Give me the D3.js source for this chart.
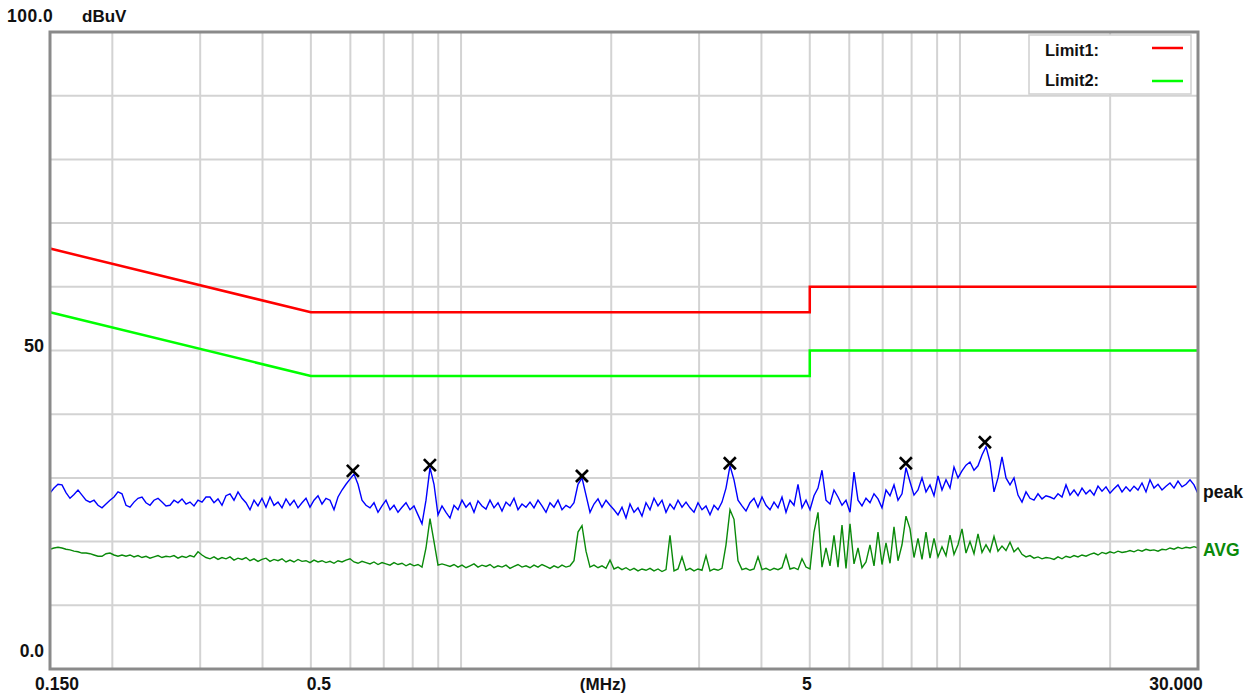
<!DOCTYPE html>
<html><head><meta charset="utf-8">
<script src="https://cdn.jsdelivr.net/npm/d3@7"></script>
<style>
body{margin:0;background:#fff}
svg{display:block}
text{font-family:"Liberation Sans",Arial,sans-serif;font-weight:bold;fill:#111}
</style>
</head><body>
<svg id="chart" width="1255" height="695"></svg>
<script>
// ---------------- DATA ----------------
const freqStart = 0.15, freqStop = 30;   // MHz sweep
const levelMin = 0, levelMax = 100;      // dBuV

// peak trace (dBuV), equally spaced sweep points on log frequency
const peakValues = [
27.6,28.4,29.0,28.9,27.7,26.8,27.4,28.1,27.3,26.5,
26.2,26.5,25.7,25.3,25.9,26.5,27.0,27.8,27.5,25.7,
25.4,26.2,26.8,27.0,26.1,25.7,26.5,26.8,26.2,25.6,
25.7,26.5,26.1,26.7,25.9,26.2,25.6,26.5,26.2,27.0,
27.0,26.1,26.7,25.7,27.2,27.5,26.5,27.8,26.8,26.1,
25.0,26.5,25.6,26.8,25.4,27.0,25.7,26.2,25.3,26.7,
25.7,26.5,25.3,26.1,26.8,25.4,26.5,27.2,25.9,26.8,
26.5,25.0,27.0,28.1,29.0,29.8,30.6,29.0,26.5,25.7,
25.3,26.1,24.6,25.6,26.5,25.0,25.7,24.6,25.4,26.1,
25.0,25.6,24.2,22.8,26.5,31.6,29.0,24.2,25.6,24.6,
23.7,25.7,25.0,26.5,25.4,26.1,24.6,26.4,25.6,25.1,
26.5,25.3,26.1,24.8,26.2,25.6,26.8,25.0,25.9,25.4,
26.2,25.3,26.5,25.6,24.6,26.1,25.4,26.5,25.0,25.7,
25.3,26.1,29.0,30.0,27.3,24.6,25.9,26.7,25.4,26.5,
25.7,25.0,24.2,25.4,23.7,25.9,24.6,25.3,24.0,26.1,
25.0,26.8,25.6,26.5,24.6,25.9,25.1,26.5,25.4,26.2,
25.3,24.6,26.1,25.0,25.6,24.2,25.7,25.0,26.2,28.4,
31.9,29.7,26.5,25.6,24.8,26.1,26.8,25.4,27.0,25.7,
25.0,26.2,25.3,27.0,24.6,26.5,25.7,29.0,25.3,26.5,
25.0,27.2,28.4,31.2,26.5,25.9,28.1,27.0,25.7,26.5,
24.6,30.9,26.5,25.6,26.8,26.1,27.5,26.7,25.3,28.1,
27.2,28.9,26.5,27.5,31.6,29.4,27.3,28.1,30.0,27.8,
28.9,27.2,30.3,28.1,29.7,28.4,31.7,30.0,31.1,32.0,
32.5,31.2,31.9,33.6,34.9,32.5,27.8,30.0,33.3,30.0,
28.9,30.0,27.3,26.2,27.8,26.8,26.5,27.5,26.7,27.2,
27.0,26.7,27.5,27.0,28.9,27.3,28.1,27.2,28.4,27.5,
28.1,27.3,28.7,27.9,28.6,27.6,28.3,28.9,27.8,28.6,
27.9,28.7,28.1,29.2,27.8,29.7,28.4,29.0,28.1,28.7,
29.2,28.4,29.5,28.6,29.0,29.7,28.9,27.5
];

// average trace (dBuV), same sweep points
const avgValues = [
18.8,19.0,19.1,19.0,18.8,18.7,18.5,18.4,18.2,18.2,
18.1,17.9,17.7,17.7,18.1,18.2,17.9,17.7,17.9,17.7,
17.9,17.6,17.8,17.5,17.7,17.4,17.6,17.8,17.5,17.7,
17.6,17.8,17.4,17.7,17.5,17.8,17.6,18.4,17.9,17.5,
17.3,17.6,17.2,17.5,17.3,17.6,17.1,17.4,17.2,17.5,
17.0,17.3,16.9,17.2,17.4,16.9,17.2,17.0,17.3,16.8,
17.1,16.8,17.2,16.9,17.0,16.7,17.1,16.8,17.0,16.7,
16.9,16.6,17.0,16.8,17.1,17.3,16.8,16.6,16.9,16.7,
16.5,16.8,16.4,16.7,16.5,16.3,16.7,16.4,16.6,16.2,
16.5,16.2,16.4,16.0,19.0,23.6,20.0,16.3,16.5,16.3,
16.1,16.4,16.0,16.3,15.9,16.2,16.5,16.0,16.3,16.1,
16.4,15.9,16.2,16.0,16.3,15.8,16.1,16.4,16.0,16.2,
15.9,16.3,16.0,16.4,16.1,15.8,16.2,15.9,16.3,16.0,
16.2,17.0,21.5,22.5,18.5,16.0,16.3,15.9,16.2,15.8,
17.1,15.7,16.0,15.6,15.9,15.5,15.8,15.4,15.7,15.5,
15.8,15.4,15.7,15.3,15.6,21.0,15.4,15.7,17.6,15.5,
15.8,15.4,15.7,15.5,17.8,15.4,15.7,15.5,15.8,19.5,
25.0,23.5,17.0,15.6,15.8,15.5,15.7,17.6,15.6,15.8,
15.5,15.8,15.6,15.9,17.9,15.7,15.9,15.6,17.3,16.0,
15.7,21.5,24.6,16.0,19.0,16.2,21.0,16.0,22.6,15.8,
22.8,16.5,19.0,15.9,16.8,19.5,16.2,21.5,16.4,19.8,
16.6,22.3,17.0,19.5,24.0,22.0,17.5,20.5,17.2,21.5,
17.4,20.5,17.6,19.2,17.8,21.0,18.0,19.5,22.0,18.2,
20.0,18.1,21.2,18.3,19.5,18.4,20.8,18.5,19.3,18.6,
19.9,18.4,19.0,18.0,17.6,17.8,17.4,17.6,17.3,17.5,
17.4,17.2,17.6,17.3,17.7,17.5,17.8,17.6,17.9,17.7,
18.0,18.2,17.9,18.3,18.1,18.4,18.2,18.5,18.3,18.4,
18.6,18.4,18.7,18.5,18.8,18.6,18.7,18.5,18.8,18.7,
19.0,18.8,19.1,18.9,19.1,19.0,19.2,19.0
];

// limit lines
const limit1Freqs  = [0.15, 0.5, 5, 5, 30];
const limit1Levels = [66, 56, 56, 60, 60];
const limit2Freqs  = [0.15, 0.5, 5, 5, 30];
const limit2Levels = [56, 46, 46, 50, 50];

// peak markers (x)
const markerFreqs  = [0.607, 0.866, 1.747, 3.457, 7.79, 11.22];
const markerLevels = [31.1, 32.0, 30.3, 32.3, 32.3, 35.6];

// grid & tick labels
const xGridFreqs = [0.2,0.3,0.4,0.5,0.6,0.7,0.8,0.9,1,2,3,4,5,6,7,8,9,10,20];
const yGridLevels = [10,20,30,40,50,60,70,80,90];
const xTickValues = [0.15, 0.5, 5, 30];
const xTickLabels = ["0.150", "0.5", "5", "30.000"];
const yTickValues = [100, 50, 0];
const yTickLabels = ["100.0", "50", "0.0"];
const legendNames = ["Limit1:", "Limit2:"];

// ---------------- DRAW ----------------
const L = 50, R = 1198, T = 32, B = 669;
const svg = d3.select("#chart");
const x = d3.scaleLog().domain([freqStart, freqStop]).range([L, R]);
const y = d3.scaleLinear().domain([levelMin, levelMax]).range([B, T]);

const N = peakValues.length;
const sweep = d3.range(N).map(i => freqStart * Math.pow(freqStop / freqStart, i / (N - 1)));

// grid
const grid = svg.append("g").attr("stroke", "#d3d3d3").attr("stroke-width", 2);
grid.selectAll("line.v").data(xGridFreqs).join("line")
  .attr("x1", d => x(d)).attr("x2", d => x(d)).attr("y1", T).attr("y2", B);
grid.selectAll("line.h").data(yGridLevels).join("line")
  .attr("x1", L).attr("x2", R).attr("y1", d => y(d)).attr("y2", d => y(d));

// limits
const lim = d3.line().x(d => x(d[0])).y(d => y(d[1]));
svg.append("path").datum(limit1Freqs.map((f, i) => [f, limit1Levels[i]]))
  .attr("d", lim).attr("fill", "none").attr("stroke", "#ff0000").attr("stroke-width", 2.5);
svg.append("path").datum(limit2Freqs.map((f, i) => [f, limit2Levels[i]]))
  .attr("d", lim).attr("fill", "none").attr("stroke", "#00ff00").attr("stroke-width", 2.5);

// traces
const trLin = d3.line().x(d => x(d[0])).y(d => y(d[1]));
svg.append("path").datum(sweep.map((f, i) => [f, avgValues[i]]))
  .attr("d", trLin).attr("fill", "none").attr("stroke", "#0a8a0a").attr("stroke-width", 1.4);
svg.append("path").datum(sweep.map((f, i) => [f, peakValues[i]]))
  .attr("d", trLin).attr("fill", "none").attr("stroke", "#0000ff").attr("stroke-width", 1.4);

// markers
const mk = svg.append("g").attr("stroke", "#000").attr("stroke-width", 2.6);
markerFreqs.forEach((f, i) => {
  const cx = x(f), cy = y(markerLevels[i]), s = 6;
  mk.append("line").attr("x1", cx - s).attr("y1", cy - s).attr("x2", cx + s).attr("y2", cy + s);
  mk.append("line").attr("x1", cx - s).attr("y1", cy + s).attr("x2", cx + s).attr("y2", cy - s);
});

// frame
svg.append("rect").attr("x", L).attr("y", T).attr("width", R - L).attr("height", B - T)
  .attr("fill", "none").attr("stroke", "#8a8a8a").attr("stroke-width", 3);

// legend
const lg = svg.append("g");
lg.append("rect").attr("x", 1029).attr("y", 35).attr("width", 162).attr("height", 59)
  .attr("fill", "#fff").attr("stroke", "#cfcfcf").attr("stroke-width", 1.5);
const legColors = ["#ff0000", "#00ff00"];
legendNames.forEach((n, i) => {
  lg.append("text").attr("x", 1045).attr("y", 56 + i * 30).attr("font-size", 16.5).text(n);
  lg.append("line").attr("x1", 1152).attr("x2", 1183).attr("y1", 48 + i * 33).attr("y2", 48 + i * 33)
    .attr("stroke", legColors[i]).attr("stroke-width", 2.5);
});

// y labels
svg.append("text").attr("x", 7).attr("y", 22).attr("font-size", 17.5).attr("letter-spacing", 0.5).text(yTickLabels[0]);
svg.append("text").attr("x", 82).attr("y", 22).attr("font-size", 17).text("dBuV");
svg.append("text").attr("x", 44).attr("y", y(yTickValues[1]) + 1).attr("font-size", 18).attr("text-anchor", "end").text(yTickLabels[1]);
svg.append("text").attr("x", 44).attr("y", y(yTickValues[2]) - 12).attr("font-size", 17.5).attr("text-anchor", "end").text(yTickLabels[2]);

// x labels
const xOff = [7, 8, -3, -22];
xTickValues.forEach((v, i) => {
  svg.append("text").attr("x", x(v) + xOff[i]).attr("y", 690).attr("font-size", 17.5)
    .attr("text-anchor", "middle").text(xTickLabels[i]);
});
svg.append("text").attr("x", 603).attr("y", 690).attr("font-size", 17).attr("text-anchor", "middle").text("(MHz)");

// trace names
svg.append("text").attr("x", 1203).attr("y", y(peakValues[N - 1]) + 4).attr("font-size", 17.5).text("peak");
svg.append("text").attr("x", 1203).attr("y", y(avgValues[N - 1]) + 8).attr("font-size", 17.5)
  .style("fill", "#0a8a0a").text("AVG");
</script>
</body></html>
